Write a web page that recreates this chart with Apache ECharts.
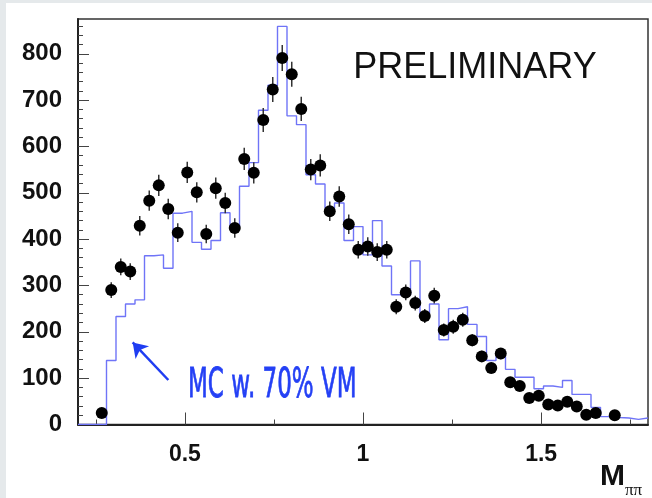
<!DOCTYPE html>
<html>
<head>
<meta charset="utf-8">
<title>M pipi spectrum</title>
<script src="https://cdn.jsdelivr.net/npm/echarts@6.0.0/dist/echarts.min.js"></script>
<style>
    html, body { margin: 0; padding: 0; background: #e5e9eb; }
    #main { position: absolute; left: 6px; top: 3px; width: 646px; height: 495px; background: #fff; }
</style>
</head>
<body>
<div id="main"></div>
<script>
// binning of the M(pipi) spectrum: 60 bins from 0.2 to 1.8
var massMin = 0.2, massMax = 1.8, nBins = 60;

// data counts per bin (null = no marker drawn)
var dataCounts = [null, null,
    25, 290, 340, 330, 429, 483, 516, 465, 414, 544,
    501, 411, 510, 478, 424, 573, 543, 657, 723, 791,
    756, 681, 550, 559, 460, 492, 432, 377, 384, 372,
    377, 254, 285, 262, 234, 278, 204, 211, 226, 182,
    147, 122, 153, 91, 83, 57, 62, 43, 41, 49,
    39, 21, 25, null, 20,
    null, null, null];

// statistical errors
var dataErrors = [null, null,
    5, 17, 18, 18, 21, 22, 23, 22, 20, 23,
    22, 20, 23, 22, 21, 24, 23, 26, 27, 28,
    27, 26, 23, 24, 21, 22, 21, 19, 20, 19,
    19, 16, 17, 16, 15, 17, 14, 15, 15, 13,
    12, 11, 12, 10, 9, 8, 8, 7, 6, 7,
    6, 5, 5, null, 4,
    null, null, null];

// MC histogram (70% VM)
var mcCounts = [0, 0, 0,
    138, 233, 260, 269, 364, 366, 337, 456, 460, 393,
    378, 397, 457, 426, 514, 565, 678, 732, 859, 666,
    647, 539, 519, 467, 478, 397, 427, 366, 440, 342,
    280, 280, 353, 240, 260, 183, 250, 254, 216, 190,
    138, 146, 119, 102, 102, 77, 83, 80, 95, 65,
    65, 37, 17, 15, 14, 11, 14];

var xMajorTicks = [0.5, 1, 1.5];
var xMinorTicks = [0.25, 0.75, 1.25, 1.75];
var yMajorTicks = [0, 100, 200, 300, 400, 500, 600, 700, 800];
var yMax = 875;

var chart = echarts.init(document.getElementById('main'));

var binWidth = (massMax - massMin) / nBins;

// step line points at the bin edges
var mcSteps = [];
for (var i = 0; i < nBins; i++) {
    mcSteps.push([massMin + i * binWidth, mcCounts[i]]);
}
mcSteps.push([massMax, mcCounts[nBins - 1]]);

var points = [];
for (var j = 0; j < nBins; j++) {
    if (dataCounts[j] == null) continue;
    points.push([massMin + (j + 0.5) * binWidth, dataCounts[j], dataErrors[j]]);
}

var yMinorTicks = [];
for (var t = 20; t < yMax; t += 20) {
    if (t % 100 !== 0) yMinorTicks.push(t);
}

var labelFont = { color: '#111', fontFamily: 'Liberation Sans', fontWeight: 'bold', fontSize: 23 };

var option = {
    animation: false,
    grid: { left: 72, right: 4, top: 16, bottom: 73.5, show: true, borderColor: '#333', borderWidth: 1.5, backgroundColor: '#fff' },
    xAxis: [{
        type: 'value', min: massMin, max: massMax, position: 'bottom',
        axisLine: { show: true, onZero: false, lineStyle: { color: '#222', width: 2 } },
        axisTick: { show: true, inside: true, length: 12, customValues: xMajorTicks, lineStyle: { color: '#444', width: 1 } },
        axisLabel: Object.assign({ customValues: xMajorTicks, margin: 19 }, labelFont),
        splitLine: { show: false }
    }, {
        type: 'value', min: massMin, max: massMax, position: 'bottom',
        axisLine: { show: false },
        axisTick: { show: true, inside: true, length: 5, customValues: xMinorTicks, lineStyle: { color: '#444', width: 1 } },
        axisLabel: { show: false },
        splitLine: { show: false }
    }],
    yAxis: [{
        type: 'value', min: 0, max: yMax, position: 'left',
        axisLine: { show: true, onZero: false, lineStyle: { color: '#222', width: 2 } },
        axisTick: { show: true, inside: true, length: 11, customValues: yMajorTicks, lineStyle: { color: '#444', width: 1 } },
        axisLabel: Object.assign({ customValues: yMajorTicks, margin: 16 }, labelFont, { fontSize: 24 }),
        splitLine: { show: false }
    }, {
        type: 'value', min: 0, max: yMax, position: 'left',
        axisLine: { show: false },
        axisTick: { show: true, inside: true, length: 5, customValues: yMinorTicks, lineStyle: { color: '#444', width: 1 } },
        axisLabel: { show: false },
        splitLine: { show: false }
    }],
    series: [{
        name: 'MC', type: 'line', step: 'end', data: mcSteps,
        symbol: 'none', z: 2,
        lineStyle: { color: '#6f74f7', width: 1.4 },
        markLine: {
            silent: true, symbol: ['none', 'arrow'], symbolSize: 14,
            label: { show: false },
            lineStyle: { color: '#1f3df2', width: 2.5, type: 'solid' },
            data: [[{ coord: [0.4535, 96] }, { coord: [0.3535, 177] }]]
        }
    }, {
        name: 'errors', type: 'custom', z: 3,
        data: points,
        renderItem: function (params, api) {
            var x = api.value(0), v = api.value(1), e = api.value(2);
            var p1 = api.coord([x, v + e]);
            var p2 = api.coord([x, v - e]);
            return { type: 'line', shape: { x1: p1[0], y1: p1[1], x2: p2[0], y2: p2[1] }, style: { stroke: '#333', lineWidth: 1.5 } };
        }
    }, {
        name: 'data', type: 'scatter', z: 4,
        data: points, symbol: 'circle', symbolSize: 12,
        itemStyle: { color: '#000', opacity: 1 }
    }],
    graphic: [{
        type: 'text', x: 469, y: 65,
        style: { text: 'PRELIMINARY', fill: '#111', font: '36px "Liberation Sans"', align: 'center', verticalAlign: 'middle' }
    }, {
        type: 'text', x: 182, y: 384, scaleX: 0.575,
        style: { text: 'MC w. 70% VM', fill: '#2440f5', stroke: '#2440f5', lineWidth: 0.8, font: '40px "DejaVu Sans"', align: 'left', verticalAlign: 'middle' }
    }, {
        type: 'text', x: 594, y: 474,
        style: { text: 'M', fill: '#111', font: 'bold 30px "Liberation Sans"', align: 'left', verticalAlign: 'middle' }
    }, {
        type: 'text', x: 619, y: 488,
        style: { text: 'ππ', fill: '#111', font: '17px "Liberation Serif"', align: 'left', verticalAlign: 'middle' }
    }]
};

chart.setOption(option);
</script>
</body>
</html>
